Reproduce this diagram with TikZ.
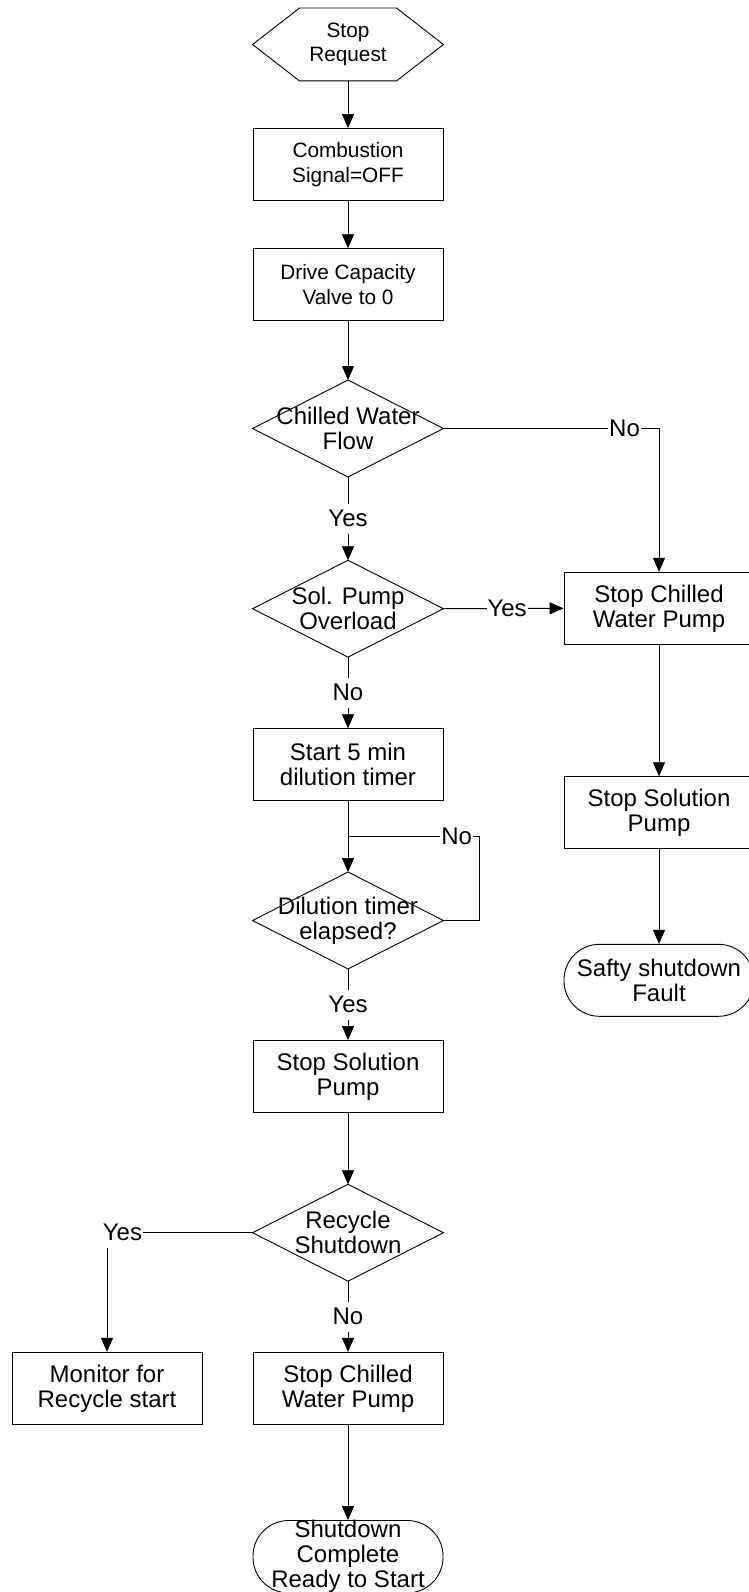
\documentclass[tikz,border=0pt]{standalone}
\usepackage{fontspec}
\setmainfont{Liberation Sans}
\usetikzlibrary{arrows.meta,calc}
\begin{document}
\begin{tikzpicture}[x=1pt,y=-1pt,
  line width=0.9pt,
  txtbig/.style={font=\fontsize{24}{25}\selectfont},
  txtsmall/.style={font=\fontsize{20.8}{24.3}\selectfont},
  proc/.style={draw, rectangle, minimum width=190pt, minimum height=72pt, inner sep=0pt, align=center},
  decbox/.style={rectangle, minimum width=190pt, minimum height=96pt, inner sep=0pt, align=center, txtbig},
  term/.style={draw, rectangle, rounded corners=35.5pt, minimum width=190pt, minimum height=72pt, inner sep=0pt, align=center, txtbig},
  hexbox/.style={rectangle, minimum width=190pt, minimum height=72pt, inner sep=0pt, align=center, txtsmall},
  lab/.style={fill=white, inner xsep=1pt, inner ysep=0pt, text height=23pt, text depth=7pt, txtbig},
  arr/.style={-{Triangle[length=14pt,width=12pt]}}]
\useasboundingbox (0,0) rectangle (749,1592);

% nodes
\node[hexbox] (hex) at (348,44.5) {Stop\\Request};
\node[proc,txtsmall] (comb) at (348,164.5) {Combustion\\Signal=OFF};
\node[proc,txtsmall] (drv) at (348,284.7) {Drive Capacity\\Valve to 0};
\node[decbox] (cw) at (348,428.5) {Chilled Water\\Flow};
\node[decbox] (sp) at (348,608.7) {Sol. Pump\\Overload};
\node[proc,txtbig] (st5) at (348,764.7) {Start 5 min\\dilution timer};
\node[decbox] (dt) at (348,920.5) {Dilution timer\\elapsed?};
\node[proc,txtbig] (ssp) at (348,1076.5) {Stop Solution\\Pump};
\node[decbox] (rs) at (348,1232.7) {Recycle\\Shutdown};
\node[proc,txtbig] (scw) at (348,1388.3) {Stop Chilled\\Water Pump};
\node[term] (fin) at (348,1556.7) {Shutdown\\Complete\\Ready to Start};
\node[proc,txtbig] (mon) at (107,1388.3) {Monitor for\\Recycle start};
\node[proc,txtbig] (rscw) at (659,608.3) {Stop Chilled\\Water Pump};
\node[proc,txtbig] (rssp) at (659,812.7) {Stop Solution\\Pump};
\node[term] (safe) at (659,980.3) {Safty shutdown\\Fault};

% outlines of hexagon and diamonds
\draw (hex.west) -- ([xshift=47pt]hex.north west) -- ([xshift=-47pt]hex.north east)
  -- (hex.east) -- ([xshift=-47pt]hex.south east) -- ([xshift=47pt]hex.south west) -- cycle;
\foreach \n in {cw,sp,dt,rs}
  \draw (\n.north) -- (\n.east) -- (\n.south) -- (\n.west) -- cycle;

% connectors
\draw[arr] (hex.south) -- (comb.north);
\draw[arr] (comb.south) -- (drv.north);
\draw[arr] (drv.south) -- (cw.north);
\draw[arr] (cw.south) -- node[lab] (l1) {Yes} (sp.north);
\draw[arr] (cw.east) -- node[lab,pos=0.84] (l2) {No} (cw.east -| rscw.north) -- (rscw.north);
\draw[arr] (sp.east) -- node[lab,pos=0.53] (l3) {Yes} (rscw.west);
\draw[arr] (sp.south) -- node[lab] (l4) {No} (st5.north);
\draw[arr] (st5.south) -- (dt.north);
\coordinate (loopR) at (479,836.7);
\coordinate (loopJ) at (348,836.7);
\draw (dt.east) -| (loopR) -- node[lab,pos=0.17] (l5) {No} (loopJ);
\draw[arr] (dt.south) -- node[lab] (l6) {Yes} (ssp.north);
\draw[arr] (rscw.south) -- (rssp.north);
\draw[arr] (rssp.south) -- (safe.north);
\draw[arr] (ssp.south) -- (rs.north);
\draw[arr] (rs.west) -| node[lab,pos=0.447] (l7) {Yes} (mon.north);
\draw[arr] (rs.south) -- node[lab] (l8) {No} (scw.north);
\draw[arr] (scw.south) -- (fin.north);
\end{tikzpicture}
\end{document}
